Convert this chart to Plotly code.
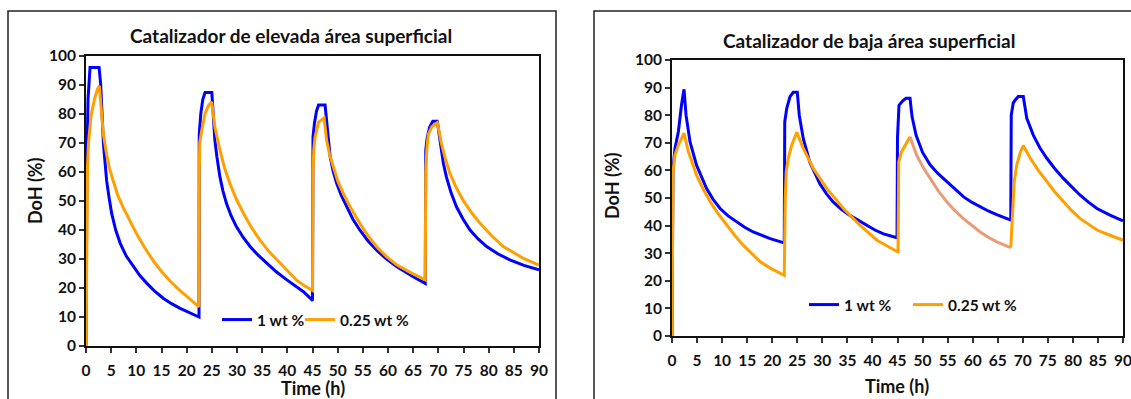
import plotly.graph_objects as go

# ---------------- data ----------------
# Left panel: "Catalizador de elevada área superficial"
t_high_1wt = [0, 0.1, 0.2, 0.4, 0.6, 0.8, 2.6, 2.9, 3.2, 3.45, 3.8, 4.1, 4.6, 5.1, 5.9, 6.8, 8.0, 9.4, 10.7,
              12.1, 13.7, 15.4, 17.0, 18.7, 20.5, 22.3, 22.45,
              22.5, 22.8, 23.2, 23.65, 25.0, 25.3, 25.6, 26.0, 26.6, 27.2, 27.9, 28.8, 29.9, 31.2, 32.6, 34.2,
              35.9, 37.8, 39.9, 41.5, 43.2, 44.9, 45.0,
              45.1, 45.4, 45.8, 46.2, 47.5, 47.8, 48.1, 48.5, 49.1, 49.8, 50.7, 51.8, 53.0, 54.4, 56.0, 57.7,
              59.6, 61.7, 63.3, 65.0, 67.4,
              67.5, 67.8, 68.3, 68.9, 69.8, 70.2, 70.6, 71.0, 71.6, 72.5, 73.6, 74.9, 76.3, 77.9, 79.6, 81.8,
              84.2, 87.0, 90.0]
doh_high_1wt = [0, 40, 65, 85, 93, 96, 96, 90.6, 80, 70, 63, 57, 51, 45.7, 40, 35.4, 31, 27.4, 24.3,
                21.6, 18.8, 16.4, 14.6, 13.0, 11.5, 10.1, 10.0,
                73, 80, 85, 87.4, 87.4, 79, 71, 65.3, 58.4, 53.5, 49.2, 45, 41.1, 37.5, 34.3, 31.3,
                28.5, 25.6, 22.8, 20.7, 18.7, 15.9, 16.0,
                72, 77, 81, 83.1, 83.1, 77, 72.2, 65.3, 60.3, 56.1, 52, 48.0, 43.8, 40.0, 36.3, 33.1,
                30.1, 27.4, 25.6, 23.9, 21.6,
                67.5, 72, 75.6, 77.5, 77.5, 72.5, 67.5, 63, 58.3, 53, 48.0, 43.8, 40.0, 36.9, 34.3, 31.8,
                29.7, 27.8, 26.3]

t_high_025wt = [0, 0.15, 0.3, 0.5, 1.0, 1.66, 2.3, 2.65, 2.98, 3.45, 4.1, 4.7, 5.4, 6.3, 7.4, 8.7, 10.1, 11.7,
                13.4, 15.0, 16.7, 18.3, 20.0, 22.3, 22.45,
                22.5, 22.6, 23.0, 23.65, 24.3, 24.97, 25.6, 26.6, 27.5, 28.6, 29.9, 31.3, 32.9, 34.6, 36.5,
                38.6, 40.2, 41.9, 43.4, 44.8, 45.0,
                45.1, 45.25, 45.5, 46.2, 47.3, 47.8, 48.4, 49.1, 50.0, 51.1, 52.7, 54.4, 56.0, 57.7, 59.6,
                61.7, 64.5, 67.4,
                67.5, 67.7, 68.0, 68.7, 69.8, 70.6, 71.4, 72.3, 73.5, 74.9, 76.5, 78.3, 80.5, 82.9, 84.9,
                86.9, 90.0]
doh_high_025wt = [0, 45, 62, 70, 79.4, 85, 88.7, 89.7, 82.2, 73, 66, 61, 57, 52, 47.7, 43, 38.5, 33.8,
                  29.3, 25.7, 22.4, 19.7, 17.2, 13.7, 13.5,
                  60, 70, 74.4, 80.2, 82.8, 84.2, 75.6, 67.5, 61.5, 56, 50.5, 45.7, 40.8, 36.4, 32.3,
                  28.4, 25.4, 22.6, 20.8, 19.2, 19.2,
                  60, 67.5, 72, 77.2, 78.6, 71, 66, 61.8, 57, 52.6, 47.3, 42.3, 38.1, 34.3, 31.0,
                  28.0, 25.3, 22.8,
                  60, 67.5, 72.9, 75.6, 77, 69.9, 64.5, 59.5, 54.8, 50.3, 46.2, 42.3, 38.2, 34.3, 32.1,
                  30.2, 27.9]

# Right panel: "Catalizador de baja área superficial"
t_low_1wt = [0, 0.1, 0.2, 0.6, 1.27, 1.9, 2.4, 2.8, 3.6, 4.9, 6.9, 8.2, 9.6, 11.2, 12.9, 14.5, 16.2, 17.9,
             19.6, 22.2, 22.4,
             22.5, 22.9, 23.55, 24.2, 25.0, 25.4, 26.2, 27.5, 29.5, 30.8, 32.2, 33.8, 35.5, 37.2, 38.9, 40.5,
             42.2, 44.9,
             45.0, 45.3, 46.0, 46.7, 47.5, 47.9, 48.7, 50.0, 51.5, 53.0, 54.8, 56.5, 58.2, 59.8, 61.5, 63.1,
             64.8, 67.4, 67.6,
             67.7, 68.1, 68.5, 69.1, 70.1, 70.8, 72.1, 73.4, 74.8, 76.4, 78.1, 79.7, 81.4, 83.1, 84.8,
             87.4, 90.0]
doh_low_1wt = [0, 45, 60.7, 68, 74, 83.8, 89.4, 80, 70.3, 61.9, 53.4, 49.5, 46.2, 43.5, 41.3, 39.4, 37.7,
               36.4, 35.3, 33.8, 34.0,
               77.6, 82.5, 86.7, 88.3, 88.3, 80, 71.5, 63, 55.2, 51.6, 48.5, 45.9, 43.7, 41.8, 40.0, 38.4,
               37.0, 35.6,
               72, 83.6, 85.1, 86.1, 86.1, 79.5, 72.8, 66.5, 62, 59, 56, 53.1, 50.4, 48.5, 46.8, 45.3,
               44.0, 41.9, 42.0,
               80, 84.5, 85.5, 86.8, 86.8, 78.9, 72.8, 68.2, 64.4, 60.6, 57.1, 54.0, 51.1, 48.5, 46.2,
               43.8, 41.7]

t_low_025wt = [0, 0.2, 0.6, 1.27, 1.9, 2.4, 3.26, 4.9, 6.2, 7.6, 9.2, 10.9, 12.5, 14.2, 15.9, 17.6, 19.9,
               22.2, 22.4,
               22.6, 22.8, 23.2, 23.9, 24.9, 26.2, 28.2, 30.9, 34.2, 37.5, 40.9, 43.0, 45.0,
               45.1, 45.25, 45.8, 46.5, 47.5]
doh_low_025wt = [0, 59.5, 65.6, 69.2, 71.5, 73.5, 66.8, 58.3, 53.3, 48.7, 44.3, 40.2, 36.5, 32.9, 29.8,
                 26.9, 24.3, 22.0, 22.0,
                 50, 59.5, 64.4, 69.2, 73.8, 68, 60.7, 53.4, 46.2, 40.2, 34.7, 32.4, 30.5,
                 30.5, 63.1, 66.7, 69.2, 72.2]
# third discharge of the 0.25 wt % curve is drawn in a lighter (salmon) tone in the original
t_low_025wt_seg = [47.5, 48.8, 50.1, 51.5, 53.1, 54.8, 56.4, 58.1, 59.8, 61.5, 63.1, 64.8, 67.6]
doh_low_025wt_seg = [72.2, 65.6, 61.1, 57.1, 52.7, 48.7, 45.5, 42.6, 40.0, 37.7, 35.8, 34.1, 32.0]
t_low_025wt_end = [67.6, 67.9, 68.3, 68.8, 69.5, 70.1, 71.5, 73.1, 74.8, 76.4, 78.1, 79.7, 81.4, 83.1,
                   84.8, 87.4, 90.0]
doh_low_025wt_end = [32.0, 45, 56, 62, 66.5, 69, 64.4, 60.0, 55.9, 52.2, 48.7, 45.5, 42.6, 40.4,
                     38.4, 36.5, 34.7]

series_names = ["1 wt %", "0.25 wt %"]
titles = ["Catalizador de elevada área superficial", "Catalizador de baja área superficial"]
x_title = "Time (h)"
y_title = "DoH (%)"

# ---------------- styling ----------------
W, H = 1131, 399
BLUE = "#0000FF"
ORANGE = "#FFA000"
SALMON = "#E99C73"
FONT = "Lato"
LW = 3


def px(x):                 # page pixel -> paper fraction
    return x / W


def py(y):
    return 1 - y / H


fig = go.Figure()

# left panel
fig.add_trace(go.Scatter(x=t_high_1wt, y=doh_high_1wt, mode="lines", name=series_names[0],
                         line=dict(color=BLUE, width=LW), xaxis="x", yaxis="y", legend="legend"))
fig.add_trace(go.Scatter(x=t_high_025wt, y=doh_high_025wt, mode="lines", name=series_names[1],
                         line=dict(color=ORANGE, width=LW), xaxis="x", yaxis="y", legend="legend2"))
# right panel
fig.add_trace(go.Scatter(x=t_low_1wt, y=doh_low_1wt, mode="lines", name=series_names[0],
                         line=dict(color=BLUE, width=LW), xaxis="x2", yaxis="y2", legend="legend3"))
fig.add_trace(go.Scatter(x=t_low_025wt, y=doh_low_025wt, mode="lines", name=series_names[1],
                         line=dict(color=ORANGE, width=LW), xaxis="x2", yaxis="y2", legend="legend4"))
fig.add_trace(go.Scatter(x=t_low_025wt_seg, y=doh_low_025wt_seg, mode="lines", showlegend=False,
                         line=dict(color=SALMON, width=LW), xaxis="x2", yaxis="y2"))
fig.add_trace(go.Scatter(x=t_low_025wt_end, y=doh_low_025wt_end, mode="lines", showlegend=False,
                         line=dict(color=ORANGE, width=LW), xaxis="x2", yaxis="y2"))

tickfont = dict(family=FONT, size=15.5, color="#111", weight="bold")
axis_common = dict(showgrid=False, zeroline=False, showline=True, linecolor="#111", linewidth=2,
                   mirror=True, ticks="outside", ticklen=5, tickwidth=1.5, tickcolor="#333",
                   tickfont=tickfont, automargin=False)
legfont = dict(family=FONT, size=15.5, color="#111", weight="bold")


def leg(line_start_x, center_y):
    return dict(orientation="h", x=px(line_start_x - 5), y=py(center_y), xanchor="left",
                yanchor="middle", bgcolor="rgba(0,0,0,0)", itemwidth=30, font=legfont)


fig.update_layout(
    width=W, height=H,
    margin=dict(l=0, r=0, t=0, b=0, pad=0, autoexpand=False),
    paper_bgcolor="white", plot_bgcolor="white",
    font=dict(family=FONT, color="#111"),
    xaxis=dict(domain=[px(86), px(539)], range=[0, 90], dtick=5, anchor="y",
               ticklabelstandoff=4, **axis_common),
    yaxis=dict(domain=[py(346), py(56)], range=[0, 100], dtick=10, anchor="x", **axis_common),
    xaxis2=dict(domain=[px(672), px(1123)], range=[0, 90], dtick=5, anchor="y2",
                ticklabelstandoff=4, ticklabeloverflow="allow", **axis_common),
    yaxis2=dict(domain=[py(336), py(60)], range=[0, 100], dtick=10, anchor="x2", **axis_common),
    legend=leg(222, 320),
    legend2=leg(305, 320),
    legend3=leg(809, 305),
    legend4=leg(913, 305),
    showlegend=True,
)

annos = [
    dict(text=titles[0], x=px(291), y=py(35), size=19),
    dict(text=titles[1], x=px(869), y=py(40), size=19),
    dict(text=x_title, x=px(313), y=py(388), size=18),
    dict(text=x_title, x=px(897), y=py(386), size=18),
    dict(text=y_title, x=px(35), y=py(191), size=18, textangle=-90),
    dict(text=y_title, x=px(612), y=py(186), size=18, textangle=-90),
]
for a in annos:
    size = a.pop("size")
    fig.add_annotation(xref="paper", yref="paper", xanchor="center", yanchor="middle",
                       showarrow=False,
                       font=dict(family=FONT, size=size, color="#111", weight="bold"), **a)

# outer chart-area frames (cut by the image edge in the original)
fig.add_shape(type="rect", xref="paper", yref="paper", x0=px(8), x1=px(556), y0=-0.2, y1=py(11),
              line=dict(color="#222", width=1.5), fillcolor="rgba(0,0,0,0)", layer="below")
fig.add_shape(type="rect", xref="paper", yref="paper", x0=px(594), x1=1.2, y0=-0.2, y1=py(11),
              line=dict(color="#222", width=1.5), fillcolor="rgba(0,0,0,0)", layer="below")

fig.write_html("out.html", config={"displayModeBar": False},
               post_script="document.body.style.margin='0';document.body.style.overflow='hidden';")
